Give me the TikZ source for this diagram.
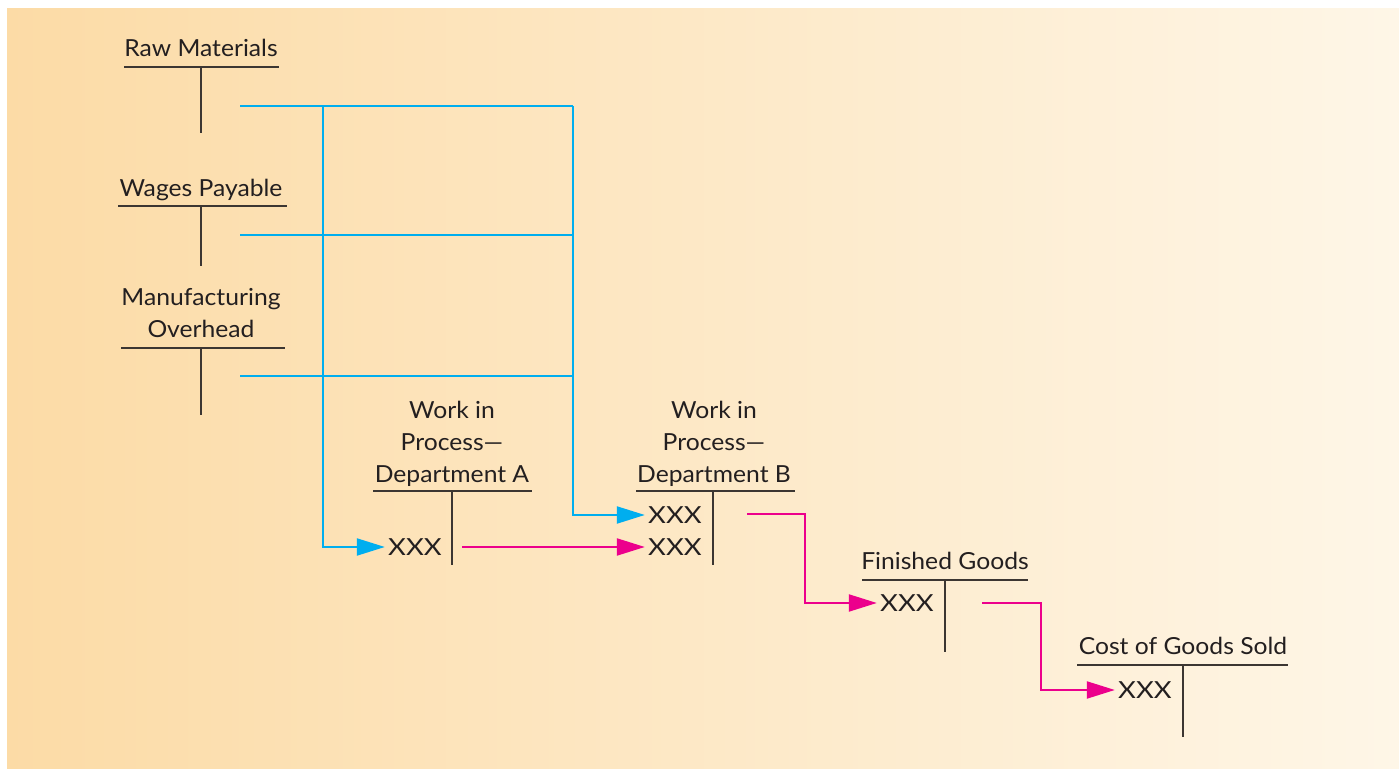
\documentclass[tikz,border=0pt]{standalone}
\usepackage{fontspec}
\setmainfont{Lato}
\newfontfamily\titlefont{Lato}[FakeStretch=1.05, Ligatures=TeX]
\newfontfamily\entryfont{Lato}[FakeStretch=1.17]
\usetikzlibrary{arrows.meta, positioning, calc}

\definecolor{flowblue}{HTML}{00AEEF}
\definecolor{flowpink}{HTML}{EC008C}
\definecolor{tline}{HTML}{3C3632}
\definecolor{textc}{HTML}{231F20}
\definecolor{bgleft}{HTML}{FCDBA6}
\definecolor{bgright}{HTML}{FEF6E7}

\begin{document}
\begin{tikzpicture}[x=0.5pt, y=-0.5pt, >=latex,
    title/.style={font=\titlefont\fontsize{11.75}{16}\selectfont, text=textc, align=center,
        anchor=south, inner sep=0pt, text depth=0pt},
    entry/.style={font=\entryfont\fontsize{11.75}{16}\selectfont, text=textc, inner sep=1.5pt},
    tacct/.style={tline, line width=1pt},
    blueflow/.style={flowblue, line width=1.05pt},
    pinkflow/.style={flowpink, line width=1.05pt},
    tip/.style={-{Triangle[length=14pt, width=8.5pt]}}]

    \useasboundingbox (0,0) rectangle (1399,769);
    \fill[white] (0,0) rectangle (1399,769);
    \shade[left color=bgleft, right color=bgright] (7,9) rectangle (1399,769);

    % cuentas T
    \node[title] (rm) at (201,57) {Raw Materials};
    \draw[tacct] (124,67) -- (279,67) (201,67) -- (201,133);

    \node[title] (wp) at (201,197) {Wages Payable};
    \draw[tacct] (118,206) -- (287,206) (201,206) -- (201,266);

    \node[title] (mo) at (201,338) {Manufacturing\\Overhead};
    \draw[tacct] (121,348) -- (285,348) (201,348) -- (201,415);

    \node[title] (wipA) at (452,483) {Work in\\Process—\\Department A};
    \draw[tacct] (373,491) -- (532,491) (452,491) -- (452,565);

    \node[title] (wipB) at (714,483) {Work in\\Process—\\Department B};
    \draw[tacct] (636,491) -- (795,491) (713,491) -- (713,565);

    \node[title] (fg) at (945,570) {Finished Goods};
    \draw[tacct] (862,580) -- (1028,580) (945,580) -- (945,652);

    \node[title] (cg) at (1183,655) {Cost of Goods Sold};
    \draw[tacct] (1077,665) -- (1288,665) (1183,665) -- (1183,737);

    % asientos
    \node[entry] (xA) at (415,547) {XXX};
    \node[entry] (xB1) at (675,515) {XXX};
    \node[entry] (xB2) at (675,547) {XXX};
    \node[entry] (xFG) at (907,603) {XXX};
    \node[entry] (xCG) at (1145,690) {XXX};

    \coordinate (rmOut) at (240,106);
    \coordinate (wpOut) at (240,235);
    \coordinate (moOut) at (240,376);
    \coordinate (jA) at (323,0);
    \coordinate (jB) at (573,0);

    % costos a produccion
    \foreach \src in {rmOut, wpOut, moOut}
        \draw[blueflow] (\src) -- (\src -| jB);
    \draw[blueflow, tip] (rmOut -| jA) |- (xA.west);
    \draw[blueflow, tip] (rmOut -| jB) |- (xB1.west);

    \coordinate (outA) at (462,547);
    \coordinate (outB) at (747,514);
    \coordinate (outFG) at (982,603);
    \coordinate (jC) at (805,0);
    \coordinate (jD) at (1041,0);

    % traspasos
    \draw[pinkflow, tip] (outA) -- (xB2.west);
    \draw[pinkflow, tip] (outB) -- (outB -| jC) |- (xFG.west);
    \draw[pinkflow, tip] (outFG) -- (outFG -| jD) |- (xCG.west);

\end{tikzpicture}
\end{document}
